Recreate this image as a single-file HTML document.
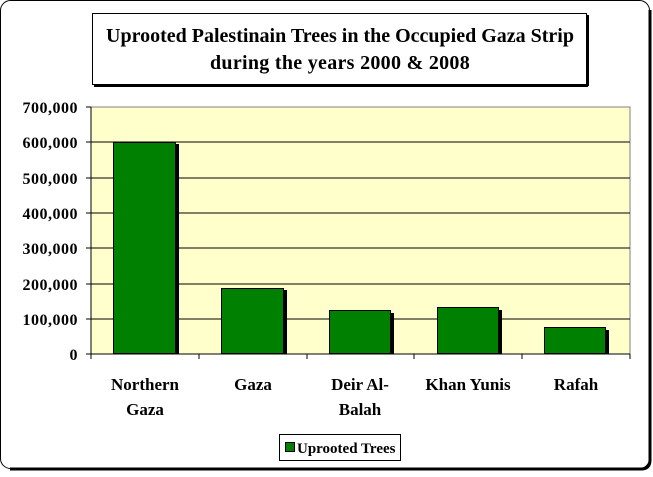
<!DOCTYPE html>
<html><head><style>
body{margin:0;background:#fff}
svg text{font-family:"Liberation Serif",serif;font-weight:bold;fill:#000}
</style></head><body>
<svg width="653" height="472" xmlns="http://www.w3.org/2000/svg">
<rect x="0.5" y="0.5" width="649" height="468" rx="10" fill="#fff" stroke="#000" stroke-width="1"/>
<path d="M650 10 L650 460 Q650 469 641 469 L10 469" fill="none" stroke="#000" stroke-width="3"/>
<rect x="92.5" y="13.5" width="494" height="71" fill="#fff" stroke="#000"/>
<line x1="94" y1="86" x2="588" y2="86" stroke="#000" stroke-width="2"/>
<line x1="588" y1="15" x2="588" y2="86" stroke="#000" stroke-width="2"/>
<text x="340" y="42" font-size="20" text-anchor="middle">Uprooted Palestinain Trees in the Occupied Gaza Strip</text>
<text x="340" y="69" font-size="20" text-anchor="middle" letter-spacing="0.3">during the years 2000 &amp; 2008</text>
<rect x="91" y="107" width="539" height="247" fill="#ffffcc" stroke="#808080"/>
<g stroke="#000">
<line x1="91" y1="142" x2="630" y2="142"/><line x1="91" y1="178" x2="630" y2="178"/>
<line x1="91" y1="213" x2="630" y2="213"/><line x1="91" y1="248" x2="630" y2="248"/>
<line x1="91" y1="284" x2="630" y2="284"/><line x1="91" y1="319" x2="630" y2="319"/>
<line x1="91" y1="354" x2="630" y2="354"/><line x1="91" y1="107" x2="91" y2="354"/>
<line x1="86" y1="107" x2="91" y2="107"/><line x1="86" y1="142" x2="91" y2="142"/><line x1="86" y1="178" x2="91" y2="178"/><line x1="86" y1="213" x2="91" y2="213"/><line x1="86" y1="248" x2="91" y2="248"/><line x1="86" y1="284" x2="91" y2="284"/><line x1="86" y1="319" x2="91" y2="319"/><line x1="86" y1="354" x2="91" y2="354"/>
<line x1="91" y1="354" x2="91" y2="359"/><line x1="199" y1="354" x2="199" y2="359"/><line x1="307" y1="354" x2="307" y2="359"/><line x1="414" y1="354" x2="414" y2="359"/><line x1="522" y1="354" x2="522" y2="359"/><line x1="630" y1="354" x2="630" y2="359"/>
</g>
<g fill="#000">
<rect x="116" y="144" width="63" height="210"/><rect x="224" y="290" width="63" height="64"/>
<rect x="332" y="313" width="62" height="41"/><rect x="440" y="310" width="62" height="44"/>
<rect x="547" y="330" width="62" height="24"/>
</g>
<g fill="#008000" stroke="#000">
<rect x="113.5" y="142.5" width="62" height="211"/><rect x="221.5" y="288.5" width="62" height="65"/>
<rect x="329.5" y="310.5" width="61" height="43"/><rect x="437.5" y="307.5" width="61" height="46"/>
<rect x="544.5" y="327.5" width="61" height="26"/>
</g>
<g font-size="16" text-anchor="end" letter-spacing="0.5">
<text x="78" y="113">700,000</text><text x="78" y="148">600,000</text><text x="78" y="184">500,000</text><text x="78" y="219">400,000</text><text x="78" y="254">300,000</text><text x="78" y="290">200,000</text><text x="78" y="325">100,000</text><text x="78" y="360">0</text>
</g>
<g font-size="17" text-anchor="middle">
<text x="145" y="390">Northern</text><text x="145" y="415">Gaza</text>
<text x="253" y="390">Gaza</text>
<text x="360" y="390">Deir Al-</text><text x="360" y="415">Balah</text>
<text x="468" y="390">Khan Yunis</text>
<text x="576" y="390">Rafah</text>
</g>
<rect x="279.5" y="434.5" width="121" height="26" fill="#fff" stroke="#000"/>
<rect x="285.5" y="442.5" width="9" height="9" fill="#008000" stroke="#000"/>
<text x="297" y="453" font-size="15">Uprooted Trees</text>
</svg>
</body></html>
